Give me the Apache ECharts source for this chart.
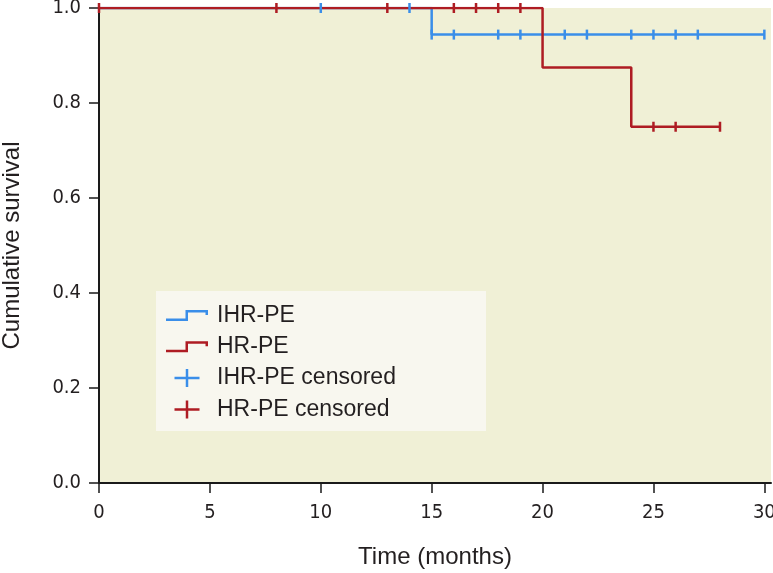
<!DOCTYPE html>
<html>
<head>
<meta charset="utf-8">
<script src="https://cdn.jsdelivr.net/npm/echarts@6/dist/echarts.min.js"></script>
<style>
html,body{margin:0;padding:0;background:#fff;}
#c{width:773px;height:573px;}
</style>
</head>
<body>
<div id="c"></div>
<script>
// Kaplan-Meier step curves
var ihrTimes = [0, 15, 30];
var ihrSurv = [1, 0.944, 0.944];
var hrTimes = [0, 20, 24, 28];
var hrSurv = [1, 0.875, 0.75, 0.75];
// Censored observations
var ihrCensorTimes = [10, 14, 15, 16, 18, 19, 21, 22, 24, 25, 26, 27, 30];
var ihrCensorSurv = [1, 1, 0.944, 0.944, 0.944, 0.944, 0.944, 0.944, 0.944, 0.944, 0.944, 0.944, 0.944];
var hrCensorTimes = [0, 8, 13, 16, 17, 18, 19, 25, 26, 28];
var hrCensorSurv = [1, 1, 1, 1, 1, 1, 1, 0.75, 0.75, 0.75];
// Axis ticks
var xTicks = [0, 5, 10, 15, 20, 25, 30];
var yTicks = [0, 0.2, 0.4, 0.6, 0.8, 1.0];
var seriesNames = ['IHR-PE', 'HR-PE', 'IHR-PE censored', 'HR-PE censored'];

var BLUE = '#3a8ee9';
var RED = '#ae1c23';

function zip(a, b) { return a.map(function (v, i) { return [v, b[i]]; }); }

var stepIcon = 'path://M0,8.5 L19.5,8.5 L19.5,0 L42,0 L42,5 L39.5,5 L39.5,2.5 L22,2.5 L22,11 L0,11 Z';
var plusIcon = 'path://M0,7.75 L11.25,7.75 L11.25,0 L13.75,0 L13.75,7.75 L25,7.75 L25,10.25 L13.75,10.25 L13.75,18 L11.25,18 L11.25,10.25 L0,10.25 Z';

var chart = echarts.init(document.getElementById('c'), null, {renderer: 'canvas'});
var tickFont = {fontFamily: '"Liberation Sans Narrow","DejaVu Sans Condensed",sans-serif', fontSize: 20, color: '#231f20'};
var nameFont = {fontFamily: '"Liberation Sans",Arial,sans-serif', fontSize: 24, color: '#231f20'};
var legendFont = {fontFamily: '"Liberation Sans",Arial,sans-serif', fontSize: 23, color: '#231f20'};

chart.setOption({
  animation: false,
  grid: {left: 99, right: 2, top: 8, bottom: 90, show: true, backgroundColor: '#f0f0d6', borderWidth: 0,
         containLabel: false, outerBoundsMode: 'none'},
  xAxis: {
    type: 'value', min: 0, max: 30.3,
    name: 'Time (months)', nameLocation: 'middle', nameGap: 62, nameTextStyle: nameFont,
    axisLine: {show: true, lineStyle: {color: '#1a1a1a', width: 2}},
    axisTick: {show: true, length: 10, lineStyle: {color: '#1a1a1a', width: 1.5}, customValues: xTicks},
    axisLabel: Object.assign({margin: 20, customValues: xTicks, formatter: function (v) { return String(v); }}, tickFont),
    splitLine: {show: false}
  },
  yAxis: {
    type: 'value', min: 0, max: 1, interval: 0.2,
    name: 'Cumulative survival', nameLocation: 'middle', nameGap: 75, nameTextStyle: nameFont,
    axisLine: {show: true, lineStyle: {color: '#1a1a1a', width: 2}},
    axisTick: {show: true, length: 10, lineStyle: {color: '#1a1a1a', width: 1.5}, customValues: yTicks},
    axisLabel: Object.assign({margin: 18, customValues: yTicks, formatter: function (v) { return v.toFixed(1); }}, tickFont),
    splitLine: {show: false}
  },
  legend: {
    orient: 'vertical', left: 166, top: 304, padding: 0,
    itemWidth: 42, itemHeight: 18, itemGap: 8.3,
    symbolKeepAspect: true,
    itemStyle: {borderWidth: 0, opacity: 1},
    textStyle: Object.assign({padding: [0, 0, 0, 4]}, legendFont),
    data: [
      {name: seriesNames[0], icon: stepIcon},
      {name: seriesNames[1], icon: stepIcon},
      {name: seriesNames[2], icon: plusIcon},
      {name: seriesNames[3], icon: plusIcon}
    ],
    selectedMode: false
  },
  graphic: [{
    type: 'rect', z: 3, silent: true,
    shape: {x: 156, y: 291, width: 330, height: 140},
    style: {fill: '#f8f7ef'}
  }],
  series: [
    {name: seriesNames[0], type: 'line', step: 'end', data: zip(ihrTimes, ihrSurv), showSymbol: false,
     color: BLUE, lineStyle: {color: BLUE, width: 2.5}, itemStyle: {color: BLUE}, z: 2},
    {name: seriesNames[1], type: 'line', step: 'end', data: zip(hrTimes, hrSurv), showSymbol: false,
     color: RED, lineStyle: {color: RED, width: 2.5}, itemStyle: {color: RED}, z: 3},
    {name: seriesNames[2], type: 'scatter', data: zip(ihrCensorTimes, ihrCensorSurv),
     symbol: 'rect', symbolSize: [2.5, 10], itemStyle: {color: BLUE, opacity: 1}, color: BLUE, z: 4},
    {name: seriesNames[3], type: 'scatter', data: zip(hrCensorTimes, hrCensorSurv),
     symbol: 'rect', symbolSize: [2.5, 10], itemStyle: {color: RED, opacity: 1}, color: RED, z: 5}
  ]
});
</script>
</body>
</html>
